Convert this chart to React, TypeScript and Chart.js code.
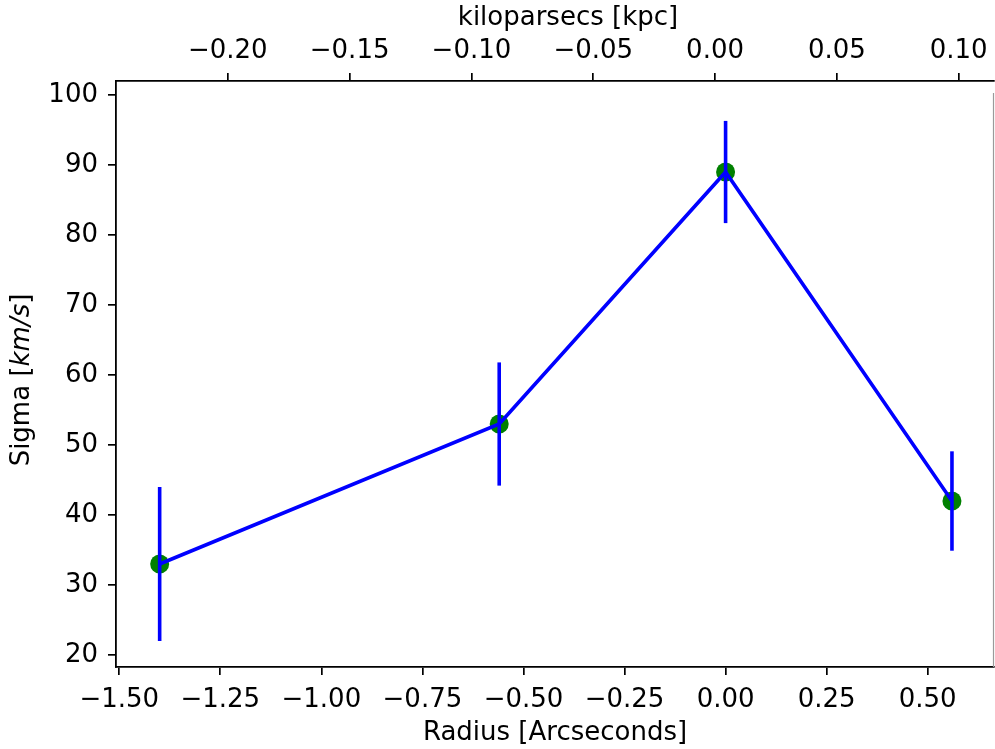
import React, { useEffect, useRef } from "react";
import { Chart, registerables } from "chart.js";

Chart.register(...registerables);

// ---- data ----
const radiusArcsec = [-1.4, -0.56, 0.0, 0.56];
const sigma = [33, 53, 89, 42];
const sigmaErr = [11, 8.8, 7.3, 7.1];

const xTicks = [-1.5, -1.25, -1.0, -0.75, -0.5, -0.25, 0.0, 0.25, 0.5];
const kpcTicks = [-0.2, -0.15, -0.1, -0.05, 0.0, 0.05, 0.1];
const yTicks = [20, 30, 40, 50, 60, 70, 80, 90, 100];

const xRange = [-1.508, 0.664];
const kpcRange = [-0.2459, 0.1145];
const yRange = [18.29, 102];

const xTitle = "Radius [Arcseconds]";
const kpcTitle = "kiloparsecs [kpc]";
const yTitleParts: [string, boolean][] = [
  ["Sigma [", false],
  ["km/s", true],
  ["]", false],
];

const FONT = "'DejaVu Sans', sans-serif";
const FS = 26;

const fmt2 = (v: number) => (v < 0 ? "\u2212" : "") + Math.abs(v).toFixed(2);

const errorBarsPlugin = {
  id: "errorBars",
  afterDatasetsDraw(chart: any) {
    const { ctx, scales } = chart;
    const x = scales.x;
    const y = scales.y;
    ctx.save();
    ctx.strokeStyle = "#0000ff";
    ctx.lineWidth = 3.6;
    ctx.lineCap = "butt";
    radiusArcsec.forEach((r, i) => {
      const px = x.getPixelForValue(r);
      ctx.beginPath();
      ctx.moveTo(px, y.getPixelForValue(sigma[i] - sigmaErr[i]));
      ctx.lineTo(px, y.getPixelForValue(sigma[i] + sigmaErr[i]));
      ctx.stroke();
    });
    ctx.restore();
  },
};

const titlesPlugin = {
  id: "titles",
  afterDraw(chart: any) {
    const { ctx, chartArea } = chart;
    const cx = (chartArea.left + chartArea.right) / 2;
    ctx.save();
    ctx.fillStyle = "#000";
    ctx.textBaseline = "middle";
    ctx.textAlign = "center";
    ctx.font = `${FS}px ${FONT}`;
    ctx.fillText(xTitle, cx, chartArea.bottom + 66);
    ctx.fillText(kpcTitle, cx + 13, 18);

    // right spine (lighter)
    ctx.strokeStyle = "#9a9a9a";
    ctx.lineWidth = 1.2;
    ctx.beginPath();
    ctx.moveTo(chartArea.right - 0.5, chartArea.top + 12);
    ctx.lineTo(chartArea.right - 0.5, chartArea.bottom);
    ctx.stroke();

    // y title with italic part
    ctx.translate(22, (chartArea.top + chartArea.bottom) / 2 + 6);
    ctx.rotate(-Math.PI / 2);
    const fonts = yTitleParts.map(([, it]) => `${it ? "italic " : ""}${FS}px ${FONT}`);
    let total = 0;
    const widths = yTitleParts.map(([t], i) => {
      ctx.font = fonts[i];
      const w = ctx.measureText(t).width;
      total += w;
      return w;
    });
    let sx = -total / 2;
    ctx.textAlign = "left";
    yTitleParts.forEach(([t], i) => {
      ctx.font = fonts[i];
      ctx.fillText(t, sx, 0);
      sx += widths[i];
    });
    ctx.restore();
  },
};

const zeroPad = (s: any) => {
  s.paddingLeft = 0;
  s.paddingRight = 0;
  s.paddingTop = 0;
  s.paddingBottom = 0;
  s.getPadding = () => ({ left: 0, top: 0, right: 0, bottom: 0 });
};

export default function App() {
  const ref = useRef<HTMLCanvasElement | null>(null);

  useEffect(() => {
    document.body.style.margin = "0";
    document.body.style.overflow = "hidden";
    if (!ref.current) return;
    const tickFont = { family: FONT, size: FS };
    const axisCommon = {
      grid: {
        drawOnChartArea: false,
        drawTicks: true,
        tickLength: 8,
        color: "#000",
        lineWidth: 1.7,
      },
      border: { display: true, color: "#000", width: 1.8 },
    };
    const chart = new Chart(ref.current, {
      type: "scatter",
      data: {
        datasets: [
          {
            label: "line",
            data: radiusArcsec.map((r, i) => ({ x: r, y: sigma[i] })),
            showLine: true,
            borderColor: "#0000ff",
            borderWidth: 3.6,
            pointRadius: 0,
            fill: false,
            order: 1,
            xAxisID: "x",
            yAxisID: "y",
          } as any,
          {
            label: "points",
            data: radiusArcsec.map((r, i) => ({ x: r, y: sigma[i] })),
            pointRadius: 9.5,
            pointBackgroundColor: "#008000",
            pointBorderWidth: 0,
            backgroundColor: "#008000",
            order: 2,
            xAxisID: "x",
            yAxisID: "y",
          } as any,
        ],
      },
      options: {
        animation: false,
        responsive: true,
        maintainAspectRatio: false,
        devicePixelRatio: 1,
        layout: { autoPadding: false, padding: { left: 0, right: 1, top: 0, bottom: 0 } },
        plugins: { legend: { display: false }, tooltip: { enabled: false } },
        scales: {
          x: {
            type: "linear",
            position: "bottom",
            min: xRange[0],
            max: xRange[1],
            ...axisCommon,
            ticks: {
              font: tickFont,
              color: "#000",
              padding: 10,
              maxRotation: 0,
              autoSkip: false,
              callback: (v: any) => fmt2(Number(v)),
            },
            afterBuildTicks: (s: any) => {
              s.ticks = xTicks.map((v) => ({ value: v }));
            },
            afterFit: (s: any) => {
              s.height = 82;
              zeroPad(s);
            },
          },
          x2: {
            type: "linear",
            position: "top",
            display: true,
            min: kpcRange[0],
            max: kpcRange[1],
            ...axisCommon,
            ticks: {
              font: tickFont,
              color: "#000",
              padding: 6,
              maxRotation: 0,
              autoSkip: false,
              callback: (v: any) => fmt2(Number(v)),
            },
            afterBuildTicks: (s: any) => {
              s.ticks = kpcTicks.map((v) => ({ value: v }));
            },
            afterFit: (s: any) => {
              s.height = 81;
              zeroPad(s);
            },
          },
          y: {
            type: "linear",
            position: "left",
            min: yRange[0],
            max: yRange[1],
            ...axisCommon,
            ticks: {
              font: tickFont,
              color: "#000",
              padding: 10,
              autoSkip: false,
              callback: (v: any) => String(Math.round(Number(v))),
            },
            afterBuildTicks: (s: any) => {
              s.ticks = yTicks.map((v) => ({ value: v }));
            },
            afterFit: (s: any) => {
              s.width = 116;
              zeroPad(s);
            },
          },
        },
      } as any,
      plugins: [errorBarsPlugin, titlesPlugin],
    });
    return () => chart.destroy();
  }, []);

  return (
    <div style={{ position: "relative", width: 995, height: 749 }}>
      <canvas ref={ref} />
    </div>
  );
}
